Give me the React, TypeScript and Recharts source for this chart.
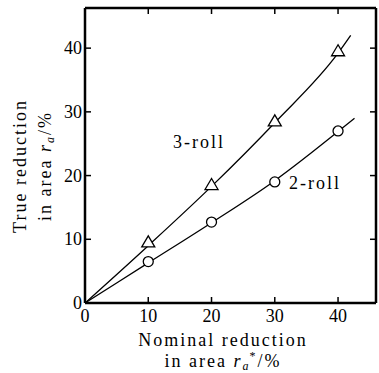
import React from "react";
import {
  ComposedChart,
  Line,
  Scatter,
  XAxis,
  YAxis,
  Label,
} from "recharts";

// measured points (nominal reduction % -> true reduction %)
const nominal = [10, 20, 30, 40];
const threeRollPts = [9.5, 18.5, 28.5, 39.5];
const twoRollPts = [6.5, 12.7, 19.0, 27.0];

// fitted curves
const threeRollCurveX = [0, 10, 20, 30, 40, 42];
const threeRollCurveY = [0, 9.0, 18.3, 28.3, 39.2, 42.0];
const twoRollCurveX = [0, 10, 20, 30, 40, 42.6];
const twoRollCurveY = [0, 6.3, 12.6, 19.2, 26.9, 29.0];

const axisTicks = [0, 10, 20, 30, 40];

const threeRoll = nominal.map((x, i) => ({ x, y: threeRollPts[i] }));
const twoRoll = nominal.map((x, i) => ({ x, y: twoRollPts[i] }));
const threeCurve = threeRollCurveX.map((x, i) => ({ x, y: threeRollCurveY[i] }));
const twoCurve = twoRollCurveX.map((x, i) => ({ x, y: twoRollCurveY[i] }));

const FONT = "'Liberation Serif', 'DejaVu Serif', serif";
const TICK_LEN = 6;
const SPACING = 2;

const BottomTick = (props: any) => {
  const { x, y, payload } = props;
  return (
    <g>
      {payload.value !== 0 && (
        <line x1={x} y1={y} x2={x} y2={y - TICK_LEN} stroke="#000" strokeWidth={1.5} />
      )}
      <text x={x} y={y + 19} textAnchor="middle" fontFamily={FONT} fontSize={18} fill="#000">
        {payload.value}
      </text>
    </g>
  );
};

const TopTick = (props: any) => {
  const { x, y, payload } = props;
  if (payload.value === 0) return <g />;
  return <line x1={x} y1={y} x2={x} y2={y + TICK_LEN} stroke="#000" strokeWidth={1.5} />;
};

const LeftTick = (props: any) => {
  const { x, y, payload } = props;
  return (
    <g>
      {payload.value !== 0 && (
        <line x1={x} y1={y} x2={x + TICK_LEN} y2={y} stroke="#000" strokeWidth={1.5} />
      )}
      <text x={x - 3} y={y + 6} textAnchor="end" fontFamily={FONT} fontSize={18} fill="#000">
        {payload.value}
      </text>
    </g>
  );
};

const RightTick = (props: any) => {
  const { x, y, payload } = props;
  if (payload.value === 0) return <g />;
  return <line x1={x} y1={y} x2={x - TICK_LEN} y2={y} stroke="#000" strokeWidth={1.5} />;
};

const Triangle = (props: any) => {
  const { cx, cy } = props;
  const h = 11;
  const w = 13;
  return (
    <polygon
      points={`${cx},${cy - h * 0.6} ${cx - w / 2},${cy + h * 0.4} ${cx + w / 2},${cy + h * 0.4}`}
      fill="#fff"
      stroke="#000"
      strokeWidth={1.3}
    />
  );
};

const Circle = (props: any) => {
  const { cx, cy } = props;
  return <circle cx={cx} cy={cy} r={5} fill="#fff" stroke="#000" strokeWidth={1.3} />;
};

const XTitle = () => {
  const cx = 223;
  return (
    <text fontFamily={FONT} fontSize={18} fill="#000" textAnchor="middle" letterSpacing={SPACING}>
      <tspan x={cx} y={346}>Nominal reduction</tspan>
      <tspan x={cx} y={367}>
        in area{"  "}
        <tspan fontStyle="italic">r</tspan>
        <tspan fontStyle="italic" fontSize={12} dy={3}>a</tspan>
        <tspan fontSize={12} dy={-10} dx={-1}>*</tspan>
        <tspan dy={7}>/%</tspan>
      </tspan>
    </text>
  );
};

const YTitle = () => {
  const cy = 166;
  return (
    <g>
      <text
        fontFamily={FONT}
        fontSize={18}
        fill="#000"
        textAnchor="middle"
        letterSpacing={SPACING}
        transform={`translate(26, ${cy}) rotate(-90)`}
      >
        True reduction
      </text>
      <text
        fontFamily={FONT}
        fontSize={18}
        fill="#000"
        textAnchor="middle"
        letterSpacing={SPACING}
        transform={`translate(51, ${cy}) rotate(-90)`}
      >
        in area{"  "}
        <tspan fontStyle="italic">r</tspan>
        <tspan fontStyle="italic" fontSize={12} dy={3}>a</tspan>
        <tspan dy={-3}>/%</tspan>
      </text>
    </g>
  );
};

export default function App() {
  return (
    <div style={{ position: "absolute", left: 0, top: 0, width: 379, height: 373, background: "#fff" }}>
      <ComposedChart
        width={379}
        height={373}
        margin={{ top: 7, right: 2, bottom: 0, left: 84 }}
      >
        <XAxis
          xAxisId="b"
          type="number"
          dataKey="x"
          domain={[0, 46]}
          ticks={axisTicks}
          height={70}
          tickSize={0}
          tickMargin={0}
          tickLine={false}
          axisLine={{ stroke: "#000", strokeWidth: 2.5 }}
          tick={<BottomTick />}
          allowDataOverflow
        >
          <Label content={<XTitle />} />
        </XAxis>
        <XAxis
          xAxisId="t"
          orientation="top"
          type="number"
          dataKey="x"
          domain={[0, 46]}
          ticks={axisTicks}
          height={1}
          tickSize={0}
          tickMargin={0}
          tickLine={false}
          axisLine={{ stroke: "#000", strokeWidth: 2.5 }}
          tick={<TopTick />}
          allowDataOverflow
        />
        <YAxis
          yAxisId="l"
          type="number"
          dataKey="y"
          domain={[0, 46.3]}
          ticks={axisTicks}
          width={1}
          tickSize={0}
          tickMargin={0}
          tickLine={false}
          axisLine={{ stroke: "#000", strokeWidth: 2.5 }}
          tick={<LeftTick />}
          allowDataOverflow
        />
        <YAxis
          yAxisId="r"
          orientation="right"
          type="number"
          dataKey="y"
          domain={[0, 46.3]}
          ticks={axisTicks}
          width={1}
          tickSize={0}
          tickMargin={0}
          tickLine={false}
          axisLine={{ stroke: "#000", strokeWidth: 2.5 }}
          tick={<RightTick />}
          allowDataOverflow
        />
        <Line
          xAxisId="b"
          yAxisId="l"
          data={threeCurve}
          dataKey="y"
          type="monotone"
          stroke="#000"
          strokeWidth={1.3}
          dot={false}
          isAnimationActive={false}
        />
        <Line
          xAxisId="b"
          yAxisId="l"
          data={twoCurve}
          dataKey="y"
          type="monotone"
          stroke="#000"
          strokeWidth={1.3}
          dot={false}
          isAnimationActive={false}
        />
        <Scatter
          xAxisId="b"
          yAxisId="l"
          data={threeRoll}
          dataKey="y"
          shape={<Triangle />}
          isAnimationActive={false}
        />
        <Scatter
          xAxisId="b"
          yAxisId="l"
          data={twoRoll}
          dataKey="y"
          shape={<Circle />}
          isAnimationActive={false}
        />
        <text x={199} y={148} fontFamily={FONT} fontSize={18} fill="#000" textAnchor="middle" letterSpacing={SPACING}>
          3-roll
        </text>
        <text x={315} y={189} fontFamily={FONT} fontSize={18} fill="#000" textAnchor="middle" letterSpacing={SPACING}>
          2-roll
        </text>
      </ComposedChart>
      <svg
        width={379}
        height={373}
        style={{ position: "absolute", left: 0, top: 0, pointerEvents: "none" }}
      >
        <YTitle />
      </svg>
    </div>
  );
}
